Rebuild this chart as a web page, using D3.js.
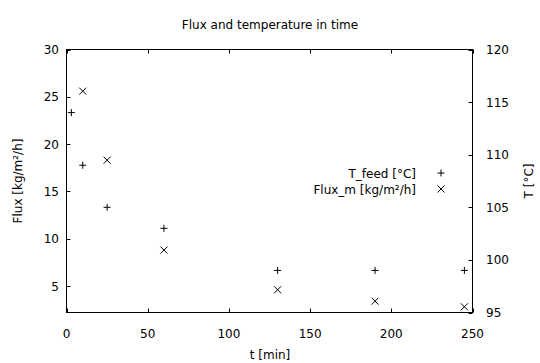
<!DOCTYPE html>
<html>
<head>
<meta charset="utf-8">
<script src="https://cdn.jsdelivr.net/npm/d3@7"></script>
<style>
	body { margin: 0; background: #fff; }
	text { font-family: "DejaVu Sans", sans-serif; font-size: 12px; fill: #000; }
</style>
</head>
<body>
<svg id="chart"></svg>
<script>
/*=================
=== The data
=================*/
var tempTime = [3, 10, 25, 60, 130, 190, 245];
var tempFeed = [114, 109, 105, 103, 99, 99, 99];

var fluxTime = [10, 25, 60, 130, 190, 245];
var fluxM = [25.6, 18.3, 8.8, 4.6, 3.4, 2.8];

var xTicks = [0, 50, 100, 150, 200, 250];
var yTicks = [5, 10, 15, 20, 25, 30];
var y2Ticks = [95, 100, 105, 110, 115, 120];

/*=================
=== The vars
=================*/
var chartWidth = 540;
var chartHeight = 363;
// plot box (window.top is reserved, so prefixed names)
var pLeft = 66.5, pRight = 472.5, pTop = 49.5, pBottom = 312.5;
var tickLen = 4;

var svg = d3.select('#chart')
	.attr('width', chartWidth)
	.attr('height', chartHeight);

var x = d3.scaleLinear().domain([0, 250]).range([pLeft, pRight]);
var y = d3.scaleLinear().domain([2.2, 30]).range([pBottom, pTop]);
var y2 = d3.scaleLinear().domain([95, 120]).range([pBottom, pTop]);

// ticks (gnuplot style, pointing inward)
var ticks = svg.append('g')
	.attr('stroke', '#000')
	.attr('stroke-width', 1);

xTicks.forEach(function (t) {
	var px = Math.round(x(t)) + 0.5;
	ticks.append('line')
		.attr('x1', px).attr('x2', px)
		.attr('y1', pBottom).attr('y2', pBottom - tickLen);
	ticks.append('line')
		.attr('x1', px).attr('x2', px)
		.attr('y1', pTop).attr('y2', pTop + tickLen);
});
yTicks.forEach(function (t) {
	var py = Math.round(y(t)) + 0.5;
	ticks.append('line')
		.attr('x1', pLeft).attr('x2', pLeft + tickLen)
		.attr('y1', py).attr('y2', py);
});
y2Ticks.forEach(function (t) {
	var py = Math.round(y2(t)) + 0.5;
	ticks.append('line')
		.attr('x1', pRight).attr('x2', pRight - tickLen)
		.attr('y1', py).attr('y2', py);
});

// border
svg.append('rect')
	.attr('x', pLeft).attr('y', pTop)
	.attr('width', pRight - pLeft).attr('height', pBottom - pTop)
	.attr('fill', 'none')
	.attr('stroke', '#000')
	.attr('stroke-width', 1);

// tick labels
svg.append('g').selectAll('text')
	.data(xTicks).enter().append('text')
	.attr('x', function (d) { return x(d); })
	.attr('y', 338)
	.attr('text-anchor', 'middle')
	.text(function (d) { return d; });

svg.append('g').selectAll('text')
	.data(yTicks).enter().append('text')
	.attr('x', 59)
	.attr('y', function (d) { return y(d) + 4.5; })
	.attr('text-anchor', 'end')
	.text(function (d) { return d; });

svg.append('g').selectAll('text')
	.data(y2Ticks).enter().append('text')
	.attr('x', 486)
	.attr('y', function (d) { return y2(d) + 4.5; })
	.attr('text-anchor', 'start')
	.text(function (d) { return d; });

// labels
svg.append('text')
	.attr('x', 270).attr('y', 28.5)
	.attr('text-anchor', 'middle')
	.text('Flux and temperature in time');

svg.append('text')
	.attr('x', 270).attr('y', 358.5)
	.attr('text-anchor', 'middle')
	.text('t [min]');

svg.append('text')
	.attr('transform', 'translate(21.5,' + ((pTop + pBottom) / 2) + ') rotate(-90)')
	.attr('text-anchor', 'middle')
	.text('Flux [kg/m²/h]');

svg.append('text')
	.attr('transform', 'translate(532.5,' + ((pTop + pBottom) / 2) + ') rotate(-90)')
	.attr('text-anchor', 'middle')
	.text('T [°C]');

// point symbols
var s = 3.5;
function plusPath(cx, cy) {
	return 'M' + (cx - s) + ',' + cy + 'H' + (cx + s) + 'M' + cx + ',' + (cy - s) + 'V' + (cy + s);
}
function crossPath(cx, cy) {
	return 'M' + (cx - s) + ',' + (cy - s) + 'L' + (cx + s) + ',' + (cy + s) +
		'M' + (cx - s) + ',' + (cy + s) + 'L' + (cx + s) + ',' + (cy - s);
}

var points = svg.append('g')
	.attr('stroke', '#000')
	.attr('stroke-width', 1)
	.attr('fill', 'none');

points.selectAll('.temp')
	.data(tempTime).enter().append('path')
	.attr('class', 'temp')
	.attr('d', function (d, i) { return plusPath(x(d), y2(tempFeed[i])); });

points.selectAll('.flux')
	.data(fluxTime).enter().append('path')
	.attr('class', 'flux')
	.attr('d', function (d, i) { return crossPath(x(d), y(fluxM[i])); });

// legend
var legend = svg.append('g');
legend.append('text')
	.attr('x', 416).attr('y', 177.5)
	.attr('text-anchor', 'end')
	.text('T_feed [°C]');
legend.append('text')
	.attr('x', 416).attr('y', 193.5)
	.attr('text-anchor', 'end')
	.text('Flux_m [kg/m²/h]');
points.append('path').attr('d', plusPath(441, 173));
points.append('path').attr('d', crossPath(441, 189));
</script>
</body>
</html>
